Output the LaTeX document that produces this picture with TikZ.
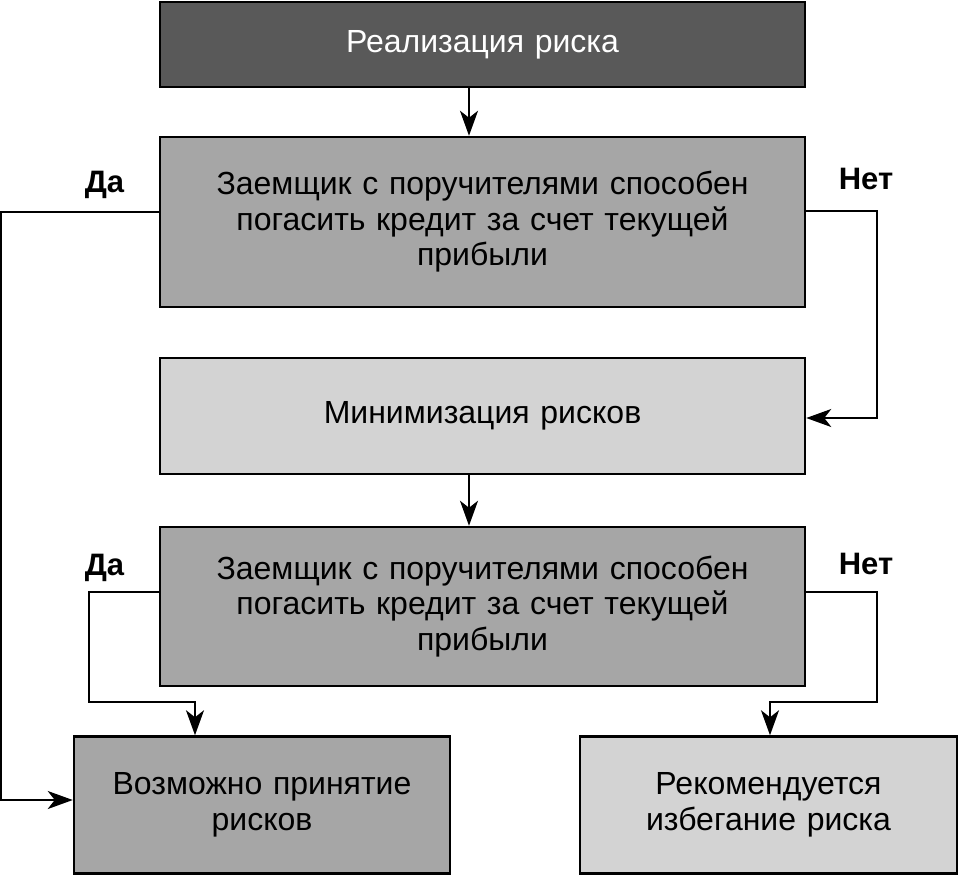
\documentclass[tikz,border=0pt]{standalone}
\usepackage{fontspec}
\setmainfont{Liberation Sans}
\usepackage{xcolor}
\usepackage{tikz}
\usetikzlibrary{positioning, arrows.meta}
\definecolor{darkbox}{HTML}{595959}
\definecolor{midbox}{HTML}{A6A6A6}
\definecolor{lightbox}{HTML}{D3D3D3}
\tikzstyle{process} = [rectangle, minimum width=645pt, text width=600pt, align=center, draw=black, line width=2.5pt, font=\fontsize{32}{35.5}\selectfont, inner sep=0pt]
\tikzstyle{answer} = [font=\fontsize{31}{34}\selectfont\bfseries, anchor=base, inner sep=0pt]
\tikzstyle{arrow} = [line width=2pt, -{Stealth[length=25pt, width=18pt, inset=7pt]}]

\begin{document}
\begin{tikzpicture}[x=1pt, y=-1pt]
\useasboundingbox (0,0) rectangle (958,876);
\node (real) [process, fill=darkbox, text=white, minimum height=85pt] at (482.5,44.5) {Реализация риска};
\node (check1) [process, fill=midbox, minimum height=170pt, below=47.5pt of real] {Заемщик с поручителями способен\\ погасить кредит за счет текущей\\ прибыли};
\node (minim) [process, fill=lightbox, minimum height=116pt, below=48.5pt of check1] {Минимизация рисков};
\node (check2) [process, fill=midbox, minimum height=159pt, below=50.5pt of minim] {Заемщик с поручителями способен\\ погасить кредит за счет текущей\\ прибыли};
\node (accept) [process, fill=midbox, minimum width=376pt, text width=340pt, minimum height=137pt] at (262,805) {Возможно принятие\\ рисков};
\node (avoid) [process, fill=lightbox, minimum width=377pt, text width=340pt, minimum height=137pt] at (768.5,805) {Рекомендуется\\ избегание риска};
% answers
\node (yes1) [answer] at (104.5,192) {Да};
\node (no1) [answer] at (866,189) {Нет};
\node (yes2) [answer] at (104.5,575) {Да};
\node (no2) [answer] at (866,574) {Нет};
% connectors
\draw [arrow] ([xshift=-13.5pt]real.south) -- ([xshift=-13.5pt]check1.north);
\draw [arrow] ([yshift=10pt]check1.west) -- ++(-158,0) |- ([yshift=5pt]accept.west);
\draw [arrow] ([yshift=11pt]check1.east) -- ++(71,0) |- ([yshift=-2pt]minim.east);
\draw [arrow] ([xshift=-13.5pt]minim.south) -- ([xshift=-13.5pt]check2.north);
\draw [arrow] ([yshift=14.5pt]check2.west) -- ++(-70,0) -- ++(0,110) -| ([xshift=-67pt]accept.north);
\draw [arrow] ([yshift=14.5pt]check2.east) -- ++(71,0) -- ++(0,110) -| ([xshift=1.5pt]avoid.north);
\end{tikzpicture}
\end{document}
